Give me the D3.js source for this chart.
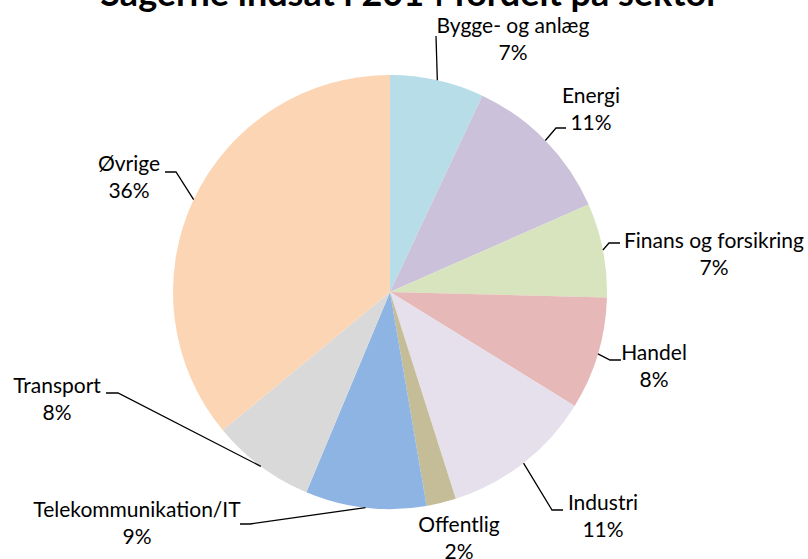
<!DOCTYPE html>
<html>
<head>
<meta charset="utf-8">
<script src="https://cdn.jsdelivr.net/npm/d3@7"></script>
<style>
  body { margin: 0; background: #fff; }
  svg { display: block; }
</style>
</head>
<body>
<div id="chart"></div>
<script>
// data
const sectors = ["Bygge- og anlæg", "Energi", "Finans og forsikring", "Handel", "Industri",
                 "Offentlig", "Telekommunikation/IT", "Transport", "Øvrige"];
const shares = [7.0, 11.4, 7.0, 8.4, 11.3, 2.2, 9.0, 7.7, 36.0];
const colors = ["#b7dde8", "#ccc1da", "#d7e4bd", "#e6b9b8", "#e5e0ec",
                "#c4bd97", "#8eb4e3", "#d9d9d9", "#fcd5b5"];
const title = "Sagerne indsat i 2014 fordelt på sektor";

// label layout: text centre x, first baseline y, leader elbow + end (null = no line)
const labelLayout = [
    { x: 513, y: 33,  line: [[436, 36]] },
    { x: 591, y: 103, line: [[556, 128], [566, 128]] },
    { x: 714, y: 248, line: [[609, 243], [620, 243]] },
    { x: 654, y: 360, line: [[610, 360], [621, 360]] },
    { x: 603, y: 510, line: [[552, 510], [563, 510]] },
    { x: 459, y: 532, line: null },
    { x: 137, y: 517, line: [[250, 524], [240, 524]] },
    { x: 57,  y: 393, line: [[118, 393], [106, 393]] },
    { x: 129, y: 171, line: [[176, 172], [165, 172]] }
];

const props = {
    width: 808,
    height: 559,
    cx: 390,
    cy: 292,
    r: 217,
    font: "Lato, 'Open Sans', sans-serif",
    fontSize: 21,
    lineGap: 27
};

const svg = d3.select("#chart")
    .append("svg")
    .attr("width", props.width)
    .attr("height", props.height);

// title, mostly cropped off at the top
svg.append("text")
    .attr("x", 410)
    .attr("y", 6)
    .attr("text-anchor", "middle")
    .attr("font-family", props.font)
    .attr("font-weight", "bold")
    .attr("font-size", 36)
    .attr("fill", "#000")
    .text(title);

const pie = d3.pie().sort(null).value(d => d.value);
const arcs = pie(sectors.map((s, i) => ({ name: s, value: shares[i], color: colors[i] })));

const arc = d3.arc().innerRadius(0).outerRadius(props.r);

const g = svg.append("g")
    .attr("transform", `translate(${props.cx},${props.cy})`);

g.selectAll("path")
    .data(arcs)
    .enter()
    .append("path")
    .attr("d", arc)
    .attr("fill", d => d.data.color);

// leader lines start on the rim at the middle angle of each slice
const leaders = svg.append("g").attr("id", "leaders");
arcs.forEach((d, i) => {
    const lay = labelLayout[i];
    if (!lay.line) return;
    const a = (d.startAngle + d.endAngle) / 2;
    const start = [props.cx + props.r * Math.sin(a), props.cy - props.r * Math.cos(a)];
    leaders.append("path")
        .attr("d", d3.line()([start].concat(lay.line)))
        .attr("fill", "none")
        .attr("stroke", "#000")
        .attr("stroke-width", 1.3);
});

// labels
const labels = svg.append("g").attr("id", "labels");
arcs.forEach((d, i) => {
    const lay = labelLayout[i];
    const t = labels.append("text")
        .attr("text-anchor", "middle")
        .attr("font-family", props.font)
        .attr("font-size", props.fontSize)
        .attr("fill", "#000");
    t.append("tspan").attr("x", lay.x).attr("y", lay.y).text(d.data.name);
    t.append("tspan").attr("x", lay.x).attr("y", lay.y + props.lineGap)
        .text(Math.round(d.data.value) + "%");
});
</script>
</body>
</html>
